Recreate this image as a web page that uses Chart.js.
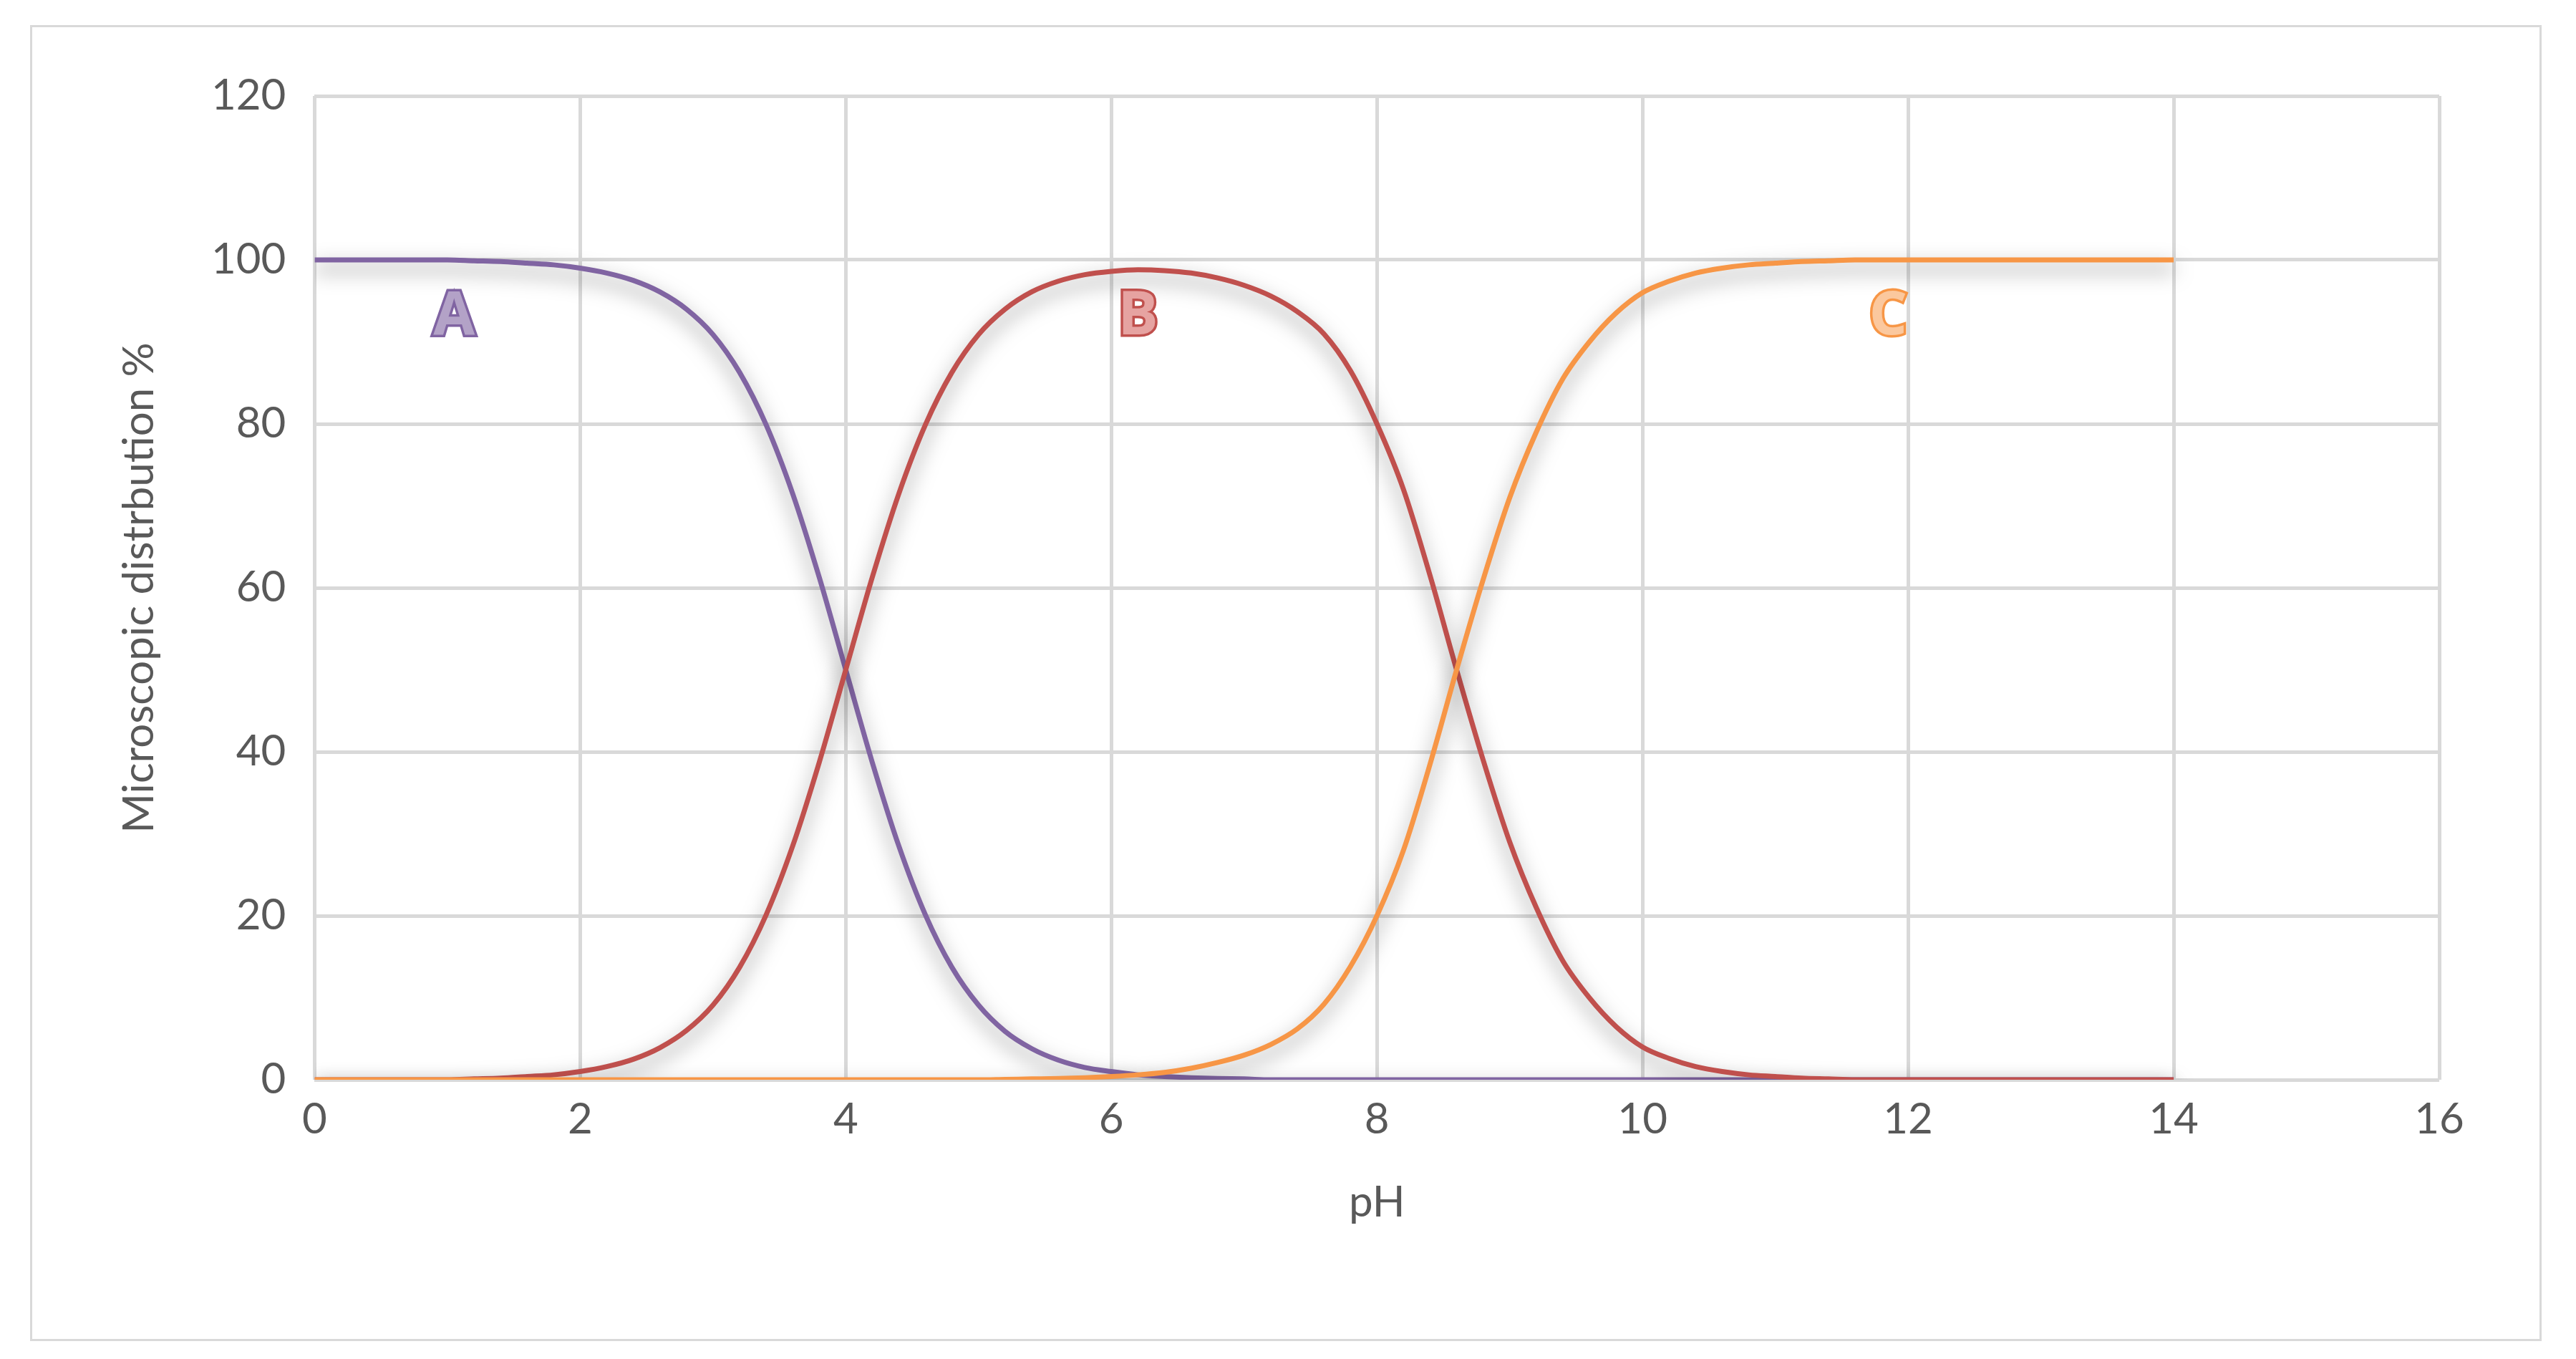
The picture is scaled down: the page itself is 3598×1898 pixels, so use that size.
<!DOCTYPE html>
<html><head><meta charset="utf-8">
<script src="https://cdn.jsdelivr.net/npm/chart.js@4/dist/chart.umd.min.js"></script>
<style>
html,body{margin:0;padding:0;background:#fff;}
#wrap{position:absolute;left:42px;top:35px;width:3508px;height:1838px;border:3px solid #d9d9d9;box-sizing:border-box;}
</style></head><body>
<div id="wrap"><canvas id="chart1"></canvas></div>
<script>
// pH 0 to 14 in steps of 0.2
const pH = [];
for (let i = 0; i <= 70; i++) pH.push(+(i * 0.2).toFixed(1));

const speciesA = [100,100,100,100,100,100,99.9,99.8,99.6,99.4,99.0,98.4,97.5,96.1,94.0,90.9,86.3,79.9,71.5,61.3,
  50.0,38.7,28.5,20.1,13.7,9.1,5.9,3.8,2.4,1.5,1.0,0.6,0.4,0.25,0.15,0.1,
  0,0,0,0,0,0,0,0,0,0,0,0,0,0,0,0,0,0,0,0,0,0,0,0,0,0,0,0,0,0,0,0,0,0,0];
const speciesB = [0,0,0,0,0,0,0.1,0.2,0.4,0.6,1.0,1.6,2.5,3.9,6.0,9.1,13.7,20.1,28.5,38.7,
  50,61.3,71.5,79.9,86.3,90.9,94.0,96.1,97.4,98.2,98.6,98.8,98.7,98.4,97.8,96.9,95.6,93.7,91,86.5,
  80,72,61.5,50,39,29,21,14.5,10,6.5,4,2.6,1.6,1,0.6,0.4,0.2,0.1,
  0,0,0,0,0,0,0,0,0,0,0,0,0];
const speciesC = [0,0,0,0,0,0,0,0,0,0,0,0,0,0,0,0,0,0,0,0,0,0,0,0,0,0,
  0.05,0.1,0.15,0.25,0.4,0.6,0.9,1.4,2.1,3,4.3,6.2,9.2,13.8,20,28,38.5,50,61,71,79,85.5,90,93.5,
  96,97.4,98.4,99,99.4,99.6,99.8,99.9,
  100,100,100,100,100,100,100,100,100,100,100,100,100];

const labels = [
  {text: 'A', x: 1.05, y: 93, color: '#8064a2', fill: '#b3a2c7'},
  {text: 'B', x: 6.2, y: 93, color: '#c0504d', fill: '#e6a3a1'},
  {text: 'C', x: 11.85, y: 93, color: '#f79646', fill: '#fbc89e'}
];

const cv = document.getElementById('chart1');
cv.width = 3502; cv.height = 1832;
cv.style.width = '3502px'; cv.style.height = '1832px';

const shadow = {
  id: 'shadow',
  beforeDatasetsDraw(chart) {
    const c = chart.ctx; c.save();
    c.shadowColor = 'rgba(0,0,0,0.5)'; c.shadowBlur = 28; c.shadowOffsetY = 12;
  },
  afterDatasetsDraw(chart) { chart.ctx.restore(); }
};

const letters = {
  id: 'letters',
  afterDraw(chart) {
    const c = chart.ctx, xs = chart.scales.x, ys = chart.scales.y;
    c.save();
    c.font = 'bold 84px "Open Sans", sans-serif';
    c.textAlign = 'center'; c.textBaseline = 'middle';
    labels.forEach(l => {
      const px = xs.getPixelForValue(l.x), py = ys.getPixelForValue(l.y);
      c.lineWidth = 7; c.strokeStyle = l.color; c.strokeText(l.text, px, py);
      c.fillStyle = l.fill; c.fillText(l.text, px, py);
    });
    c.restore();
  }
};

const mk = (arr, color) => ({
  data: pH.map((x, i) => ({x: x, y: arr[i]})),
  borderColor: color, borderWidth: 7, pointRadius: 0, cubicInterpolationMode: 'monotone', fill: false
});

const tickFont = {size: 60, family: 'Lato'};
new Chart(cv, {
  type: 'line',
  data: {datasets: [mk(speciesC, '#f79646'), mk(speciesB, '#c0504d'), mk(speciesA, '#8064a2')]},
  options: {
    responsive: false, animation: false,
    layout: {padding: {left: 110, right: 140, top: 96, bottom: 150}},
    plugins: {legend: {display: false}, tooltip: {enabled: false}},
    scales: {
      x: {type: 'linear', min: 0, max: 16,
        ticks: {stepSize: 2, color: '#595959', font: tickFont, padding: 20},
        grid: {color: '#d9d9d9', lineWidth: 5, drawTicks: false},
        border: {display: false},
        title: {display: true, text: 'pH', color: '#595959', font: tickFont, padding: {top: 24}}},
      y: {min: 0, max: 120,
        ticks: {stepSize: 20, color: '#595959', font: tickFont, padding: 40},
        grid: {color: '#d9d9d9', lineWidth: 5, drawTicks: false},
        border: {display: false},
        title: {display: true, text: 'Microscopic distrbution %', color: '#595959', font: tickFont, padding: {bottom: 24}}}
    }
  },
  plugins: [shadow, letters]
});
</script>
</body></html>
